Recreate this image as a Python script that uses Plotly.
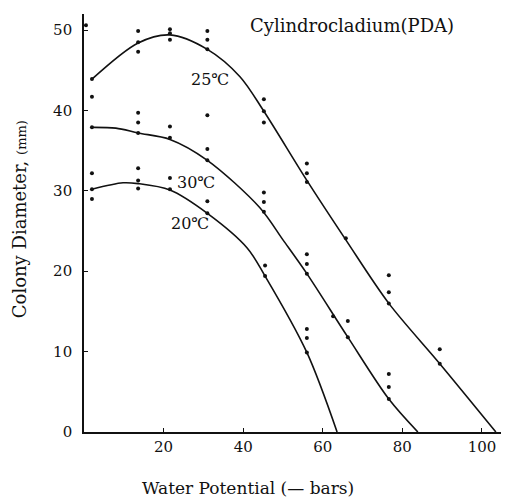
import plotly.graph_objects as go

# ---- observed data points (water potential in -bars, colony diameter in mm) ----
pts25_x = [0.5, 2, 2, 13.6, 13.6, 13.6, 21.6, 21.6, 21.6, 31, 31, 31,
           45.2, 45.2, 45.2, 56, 56, 56, 65.8, 76.6, 76.6, 76.6, 89.4, 89.4]
pts25_y = [50.6, 43.9, 41.7, 49.9, 48.5, 47.3, 50.1, 49.6, 48.8, 49.9, 48.8, 47.6,
           41.4, 39.9, 38.5, 33.4, 32.2, 31.1, 24.1, 19.5, 17.4, 16.0, 10.3, 8.5]

pts30_x = [2, 13.6, 13.6, 13.6, 21.6, 21.6, 31, 31, 31, 45.2, 45.2, 45.2,
           56, 56, 56, 62.6, 66.3, 66.3, 76.6, 76.6, 76.6]
pts30_y = [37.9, 39.7, 38.5, 37.2, 38.0, 36.6, 39.4, 35.2, 33.8, 29.8, 28.6, 27.4,
           22.1, 20.9, 19.7, 14.4, 13.8, 11.8, 7.2, 5.6, 4.1]

pts20_x = [2, 2, 2, 13.6, 13.6, 13.6, 21.6, 21.6, 31, 31, 45.5, 45.5, 56, 56, 56]
pts20_y = [32.2, 30.2, 29.0, 32.8, 31.3, 30.3, 31.6, 30.2, 28.7, 27.2, 20.7, 19.4,
           12.8, 11.7, 9.9]

# ---- fitted curves ----
curve25_x = [2, 13.6, 21.6, 31, 39.2, 45.2, 56, 65.8, 76.6, 89.4, 103.5]
curve25_y = [43.9, 48.4, 49.4, 47.6, 44.2, 39.9, 31.3, 23.9, 16.0, 8.5, 0]

curve30_x = [2, 8, 13.6, 21.6, 31, 44.2, 50, 56, 66.3, 76.6, 83.9]
curve30_y = [37.9, 37.8, 37.2, 36.4, 33.8, 27.9, 23.9, 19.7, 11.8, 4.1, 0]

curve20_x = [2, 9.8, 13.6, 21.6, 31, 41, 45.5, 56, 63.6]
curve20_y = [30.2, 31.0, 30.9, 30.1, 27.2, 22.9, 19.4, 9.9, 0]

x_ticks = [20, 40, 60, 80, 100]
y_ticks = [0, 10, 20, 30, 40, 50]

labels = ["25℃", "30℃", "20℃"]
label_x = [31.7, 28.1, 26.6]
label_y = [43.8, 31.1, 26.0]

FONT = "DejaVu Serif"
INK = "#111111"

fig = go.Figure()
for cx, cy in [(curve25_x, curve25_y), (curve30_x, curve30_y), (curve20_x, curve20_y)]:
    fig.add_trace(go.Scatter(x=cx, y=cy, mode="lines",
                             line=dict(color=INK, width=1.6, shape="spline", smoothing=0.9),
                             hoverinfo="skip", showlegend=False))
for px, py in [(pts25_x, pts25_y), (pts30_x, pts30_y), (pts20_x, pts20_y)]:
    fig.add_trace(go.Scatter(x=px, y=py, mode="markers",
                             marker=dict(color=INK, size=4),
                             showlegend=False))

for t, lx, ly in zip(labels, label_x, label_y):
    fig.add_annotation(x=lx, y=ly, text=t, showarrow=False,
                       font=dict(family=FONT, size=16, color=INK))

fig.add_annotation(x=67.3, y=50.6, text="Cylindrocladium(PDA)", showarrow=False,
                   font=dict(family=FONT, size=18, color=INK))

fig.add_annotation(xref="paper", yref="paper", x=-0.152, y=0.51,
                   xanchor="center", yanchor="middle",
                   text="Colony Diameter, <span style='font-size:13px'>(mm)</span>",
                   textangle=-90, showarrow=False,
                   font=dict(family=FONT, size=18, color=INK))
fig.add_annotation(xref="paper", yref="paper", x=0.386, y=-0.134,
                   xanchor="center", yanchor="middle",
                   text="Water Potential (— bars)", showarrow=False,
                   font=dict(family=FONT, size=17, color=INK))

fig.update_layout(
    width=501, height=493,
    margin=dict(l=76, r=0, t=6, b=69),
    paper_bgcolor="white", plot_bgcolor="white",
    font=dict(family=FONT, size=15, color=INK),
    xaxis=dict(range=[0, 106.8], tickvals=x_ticks, ticks="inside", ticklen=4,
               tickcolor=INK, showline=True, linecolor=INK, linewidth=1.6,
               showgrid=False, zeroline=False, ticklabelstandoff=0),
    yaxis=dict(range=[0, 52], tickvals=y_ticks, ticks="inside", ticklen=4,
               tickcolor=INK, showline=True, linecolor=INK, linewidth=1.6,
               showgrid=False, zeroline=False, ticklabelstandoff=7),
)

fig.write_html("out.html")
